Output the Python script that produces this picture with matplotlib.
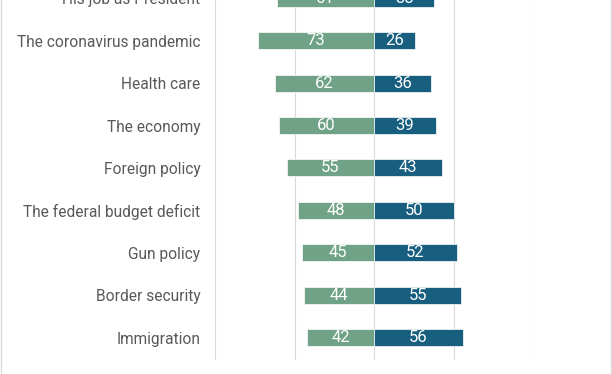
import matplotlib.pyplot as plt
from matplotlib.lines import Line2D

# approval ratings, disapprove (left, green) vs approve (right, blue)
categories = ['His job as President', 'The coronavirus pandemic', 'Health care',
              'The economy', 'Foreign policy', 'The federal budget deficit',
              'Gun policy', 'Border security', 'Immigration']
disapprove = [61, 73, 62, 60, 55, 48, 45, 44, 42]
approve = [38, 26, 36, 39, 43, 50, 52, 55, 56]

green = '#6fa287'
blue = '#175e7f'

plt.rcParams['font.family'] = ['Roboto', 'DejaVu Sans']

fig = plt.figure(figsize=(6.12, 3.74), dpi=100)
# axes runs past the top of the figure: the first row is cropped in the original
ax = fig.add_axes([215 / 612, 14 / 374, 318 / 612, 387 / 374])

y = list(range(len(categories)))
ax.barh(y, [-v for v in disapprove], height=0.4, color=green,
        edgecolor='white', linewidth=0.5, zorder=3)
ax.barh(y, approve, height=0.4, color=blue,
        edgecolor='white', linewidth=0.5, zorder=3)

for i in y:
    ax.text(-disapprove[i] / 2, i, str(disapprove[i]), ha='center', va='center',
            color='white', fontsize=12, zorder=4)
    ax.text(approve[i] / 2, i, str(approve[i]), ha='center', va='center',
            color='white', fontsize=12, zorder=4)

ax.set_xlim(-100, 100)
ax.set_ylim(8.52, -0.59)
ax.set_xticks([-100, -50, 0, 50, 100])
ax.xaxis.grid(True, color='#d9d9d9', linewidth=0.8, zorder=0)
ax.tick_params(axis='x', bottom=False, labelbottom=False)
ax.set_yticks(y)
ax.set_yticklabels(categories, fontsize=11.2, color='#595959')
ax.tick_params(axis='y', left=False, pad=7)
for s in ax.spines.values():
    s.set_visible(False)

# faint frame on the figure's sides
fig.add_artist(Line2D([0.001, 0.001], [0, 1], transform=fig.transFigure,
                      color='#dcdcdc', linewidth=1.0))
fig.add_artist(Line2D([0.999, 0.999], [0, 1], transform=fig.transFigure,
                      color='#dcdcdc', linewidth=1.0))

fig.savefig('out.png', dpi=100)
